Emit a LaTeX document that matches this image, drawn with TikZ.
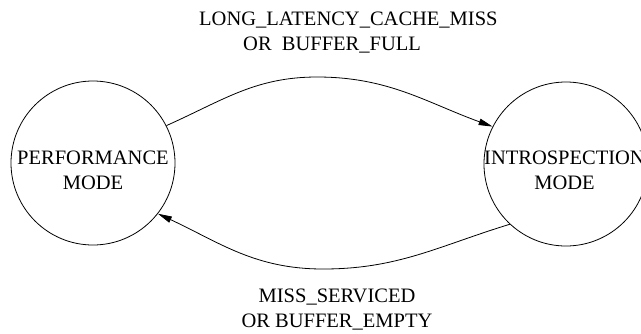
\documentclass[tikz,border=0pt]{standalone}
\usepackage{fontspec}
\setmainfont{Liberation Serif}
\usetikzlibrary{arrows.meta}
\begin{document}
\begin{tikzpicture}[x=1pt,y=-1pt,
  statecirc/.style={draw=black,circle,line width=0.8pt,minimum size=164pt,inner sep=0pt},
  bigtext/.style={font=\fontsize{20.5}{25}\selectfont,inner sep=0pt},
  trans/.style={draw=black,line width=0.8pt,-{Triangle[length=14pt,width=6.5pt]}}]
\useasboundingbox[fill=white] (0,0) rectangle (641,333);
\node[statecirc] (perf) at (93,163) {};
\node[statecirc] (intro) at (566,164) {};
\node[bigtext,align=center,anchor=base] (perft) at (93,189) {PERFORMANCE\\MODE};
\node[bigtext,align=center,anchor=base] (introt) at (564.5,189) {INTROSPECTION\\MODE};
\node[bigtext,align=left,anchor=base west] (toplab) at (199,50) {LONG\_LATENCY\_CACHE\_MISS\\\hspace*{44pt}OR\ \ BUFFER\_FULL};
\node[bigtext,align=center,anchor=base] (botlab) at (337,327) {MISS\_SERVICED\\OR BUFFER\_EMPTY};
\coordinate (tp) at (317,77);
\coordinate (bp) at (323,269);
\draw[trans] (perf.27) to[out=24,in=180] (tp) to[out=0,in=160] (intro.153);
\draw[trans] (intro.227) to[out=197,in=0] (bp) to[out=180,in=-25] (perf.-38);
\end{tikzpicture}
\end{document}
